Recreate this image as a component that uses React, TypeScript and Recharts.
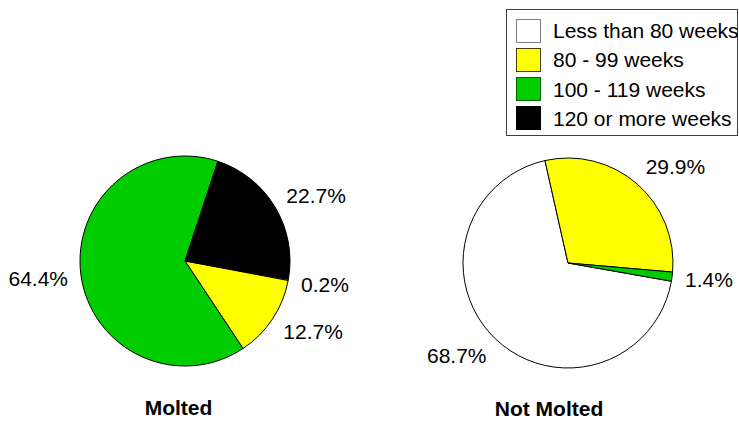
import React from 'react';
import { PieChart, Pie, Cell, Legend } from 'recharts';

const categories = ['Less than 80 weeks', '80 - 99 weeks', '100 - 119 weeks', '120 or more weeks'];
const moltedValues = [0.2, 12.7, 64.4, 22.7];
const notMoltedValues = [68.7, 29.9, 1.4, 0];
const groupTitles = ['Molted', 'Not Molted'];

const colors = ['#FFFFFF', '#FFFF00', '#00CC00', '#000000'];
const swatchBorders = ['#808080', '#404000', '#006600', '#000000'];
const FONT = '"Liberation Sans", Arial, Helvetica, sans-serif';

const moltedData = categories.map((name, i) => ({ name, value: moltedValues[i] }));
const notMoltedData = categories.map((name, i) => ({ name, value: notMoltedValues[i] }));

const RAD = Math.PI / 180;

const renderLabel = (props: any) => {
  const { cx, cy, midAngle, value } = props;
  if (!value) return null;
  const c = Math.cos(midAngle * RAD);
  const s = Math.sin(midAngle * RAD);
  const x = cx + 118 * c;
  const y = cy - 128 * s;
  return (
    <text
      x={x}
      y={y}
      textAnchor={c >= 0 ? 'start' : 'end'}
      dominantBaseline="central"
      fontSize={21}
      fontFamily={FONT}
      fill="#000"
    >
      {`${Number(value).toFixed(1)}%`}
    </text>
  );
};

const LegendBox = () => (
  <div
    style={{
      width: 232,
      height: 127,
      border: '1px solid #404040',
      boxSizing: 'border-box',
      background: '#fff',
      position: 'relative',
      fontFamily: FONT,
      fontSize: 21,
      color: '#000',
    }}
  >
    {categories.map((cat, i) => (
      <div
        key={cat}
        style={{
          position: 'absolute',
          left: 9,
          top: 8 + i * 29.3,
          height: 25,
          display: 'flex',
          alignItems: 'center',
          whiteSpace: 'nowrap',
        }}
      >
        <div
          style={{
            width: 25,
            height: 24,
            background: colors[i],
            border: `1px solid ${swatchBorders[i]}`,
            boxSizing: 'border-box',
            marginRight: 12,
          }}
        />
        <span style={{ lineHeight: '25px' }}>{cat}</span>
      </div>
    ))}
  </div>
);

export default function App() {
  return (
    <div style={{ position: 'absolute', left: 0, top: 0, background: '#fff' }}>
      <PieChart width={739} height={421} margin={{ top: 0, right: 0, bottom: 0, left: 0 }}>
        <Pie
          data={moltedData}
          dataKey="value"
          nameKey="name"
          cx={185}
          cy={261}
          outerRadius={105}
          startAngle={-10}
          endAngle={-370}
          stroke="#000"
          strokeWidth={1}
          label={renderLabel}
          labelLine={false}
          isAnimationActive={false}
        >
          {moltedData.map((d, i) => (
            <Cell key={d.name} fill={colors[i]} />
          ))}
        </Pie>
        <Pie
          data={notMoltedData}
          dataKey="value"
          nameKey="name"
          cx={568}
          cy={263}
          outerRadius={105}
          startAngle={-10}
          endAngle={-370}
          stroke="#000"
          strokeWidth={1}
          label={renderLabel}
          labelLine={false}
          isAnimationActive={false}
        >
          {notMoltedData.map((d, i) => (
            <Cell key={d.name} fill={colors[i]} />
          ))}
        </Pie>
        <Legend
          layout="vertical"
          align="right"
          verticalAlign="top"
          content={() => <LegendBox />}
          wrapperStyle={{ position: 'absolute', left: 506, top: 9, width: 232, height: 127 }}
        />
        <text x={178.5} y={415} textAnchor="middle" fontSize={21} fontWeight="bold" fontFamily={FONT} fill="#000">
          {groupTitles[0]}
        </text>
        <text x={549} y={416} textAnchor="middle" fontSize={21} fontWeight="bold" fontFamily={FONT} fill="#000">
          {groupTitles[1]}
        </text>
      </PieChart>
    </div>
  );
}
